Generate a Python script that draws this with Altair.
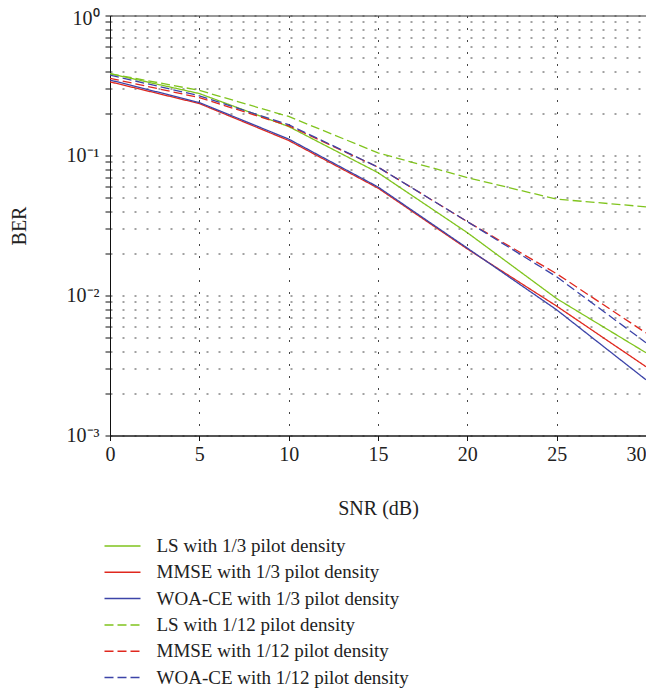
import altair as alt
import pandas as pd

snr = [0, 5, 10, 15, 20, 25, 30]

series_names = [
    "LS with 1/3 pilot density",
    "MMSE with 1/3 pilot density",
    "WOA-CE with 1/3 pilot density",
    "LS with 1/12 pilot density",
    "MMSE with 1/12 pilot density",
    "WOA-CE with 1/12 pilot density",
]

ls_13 = [0.384, 0.277, 0.161, 0.0754, 0.0281, 0.0095, 0.0039]
mmse_13 = [0.336, 0.235, 0.128, 0.0585, 0.0215, 0.0084, 0.0031]
woa_13 = [0.346, 0.239, 0.131, 0.0596, 0.0218, 0.0079, 0.0025]
ls_112 = [0.384, 0.292, 0.190, 0.1045, 0.0695, 0.0488, 0.0430]
mmse_112 = [0.356, 0.259, 0.163, 0.0826, 0.0337, 0.0143, 0.0054]
woa_112 = [0.375, 0.267, 0.166, 0.0826, 0.0337, 0.0136, 0.0046]

all_series = [ls_13, mmse_13, woa_13, ls_112, mmse_112, woa_112]

x_ticks = [0, 5, 10, 15, 20, 25, 30]
y_ticks = [m * 10 ** e for e in (-3, -2, -1) for m in range(1, 10)] + [1]

colors = ["#80c41e", "#e0281e", "#3c44a8", "#80c41e", "#e0281e", "#3c44a8"]
dashes = [[1, 0], [1, 0], [1, 0], [9, 4], [9, 4], [9, 4]]

rows = []
for name, vals in zip(series_names, all_series):
    for s, v in zip(snr, vals):
        rows.append({"SNR": s, "BER": v, "Series": name})
df = pd.DataFrame(rows)

FONT = "Liberation Serif"

label_expr = (
    "datum.value == 1 ? '10⁰' : datum.value == 0.1 ? '10⁻¹' : "
    "datum.value == 0.01 ? '10⁻²' : datum.value == 0.001 ? '10⁻³' : ''"
)

chart = (
    alt.Chart(df)
    .mark_line(strokeWidth=1.3, clip=True)
    .encode(
        x=alt.X(
            "SNR:Q",
            scale=alt.Scale(domain=[0, 30], nice=False),
            axis=alt.Axis(
                values=x_ticks,
                title="SNR (dB)",
                grid=True,
                gridDash=[2, 10],
                gridColor="#444",
                gridWidth=1,
                tickSize=5,
                labelPadding=4,
                labelFlush=False,
                labelAlign={"condition": {"test": "datum.value == 30", "value": "right"}, "value": "center"},
                titleY=79,
                titleBaseline="alphabetic",
            ),
        ),
        y=alt.Y(
            "BER:Q",
            scale=alt.Scale(type="log", domain=[0.001, 1], nice=False),
            axis=alt.Axis(
                values=y_ticks,
                labelExpr=label_expr,
                title="BER",
                grid=True,
                gridDash=[2, 10],
                gridColor="#444",
                gridWidth=1,
                tickSize=5,
                labelPadding=6,
                labelFlush=False,
                labelOffset={"condition": {"test": "datum.value == 1", "value": 3}, "value": 0},
                titleAngle=-90,
                titleX=-91,
                titleY=210,
                titleBaseline="middle",
                titleAlign="center",
            ),
        ),
        color=alt.Color(
            "Series:N",
            scale=alt.Scale(domain=series_names, range=colors),
            title=None,
        ),
        strokeDash=alt.StrokeDash(
            "Series:N",
            scale=alt.Scale(domain=series_names, range=dashes),
            title=None,
        ),
    )
    .properties(
        width=536,
        height=420,
        autosize=alt.AutoSizeParams(type="none"),
        padding={"left": 102, "top": 7.5, "right": 0, "bottom": 252.5},
    )
    .configure_view(stroke="#333", strokeWidth=1)
    .configure_axis(
        labelFont=FONT,
        labelFontSize=20,
        labelColor="#222",
        titleFont=FONT,
        titleFontSize=20,
        titleFontWeight="normal",
        titleColor="#222",
        domainColor="#111",
        tickColor="#111",
    )
    .configure_legend(
        orient="none",
        legendX=2.5,
        legendY=520.5,
        padding=0,
        symbolType="M-2,0H2",
        symbolSize=324,
        symbolStrokeWidth=1.5,
        labelFont=FONT,
        labelFontSize=19,
        labelColor="#222",
        labelOffset=24,
        labelLimit=0,
        rowPadding=6.3,
    )
)

chart.save("out.html", embed_options={"renderer": "svg", "actions": False})
